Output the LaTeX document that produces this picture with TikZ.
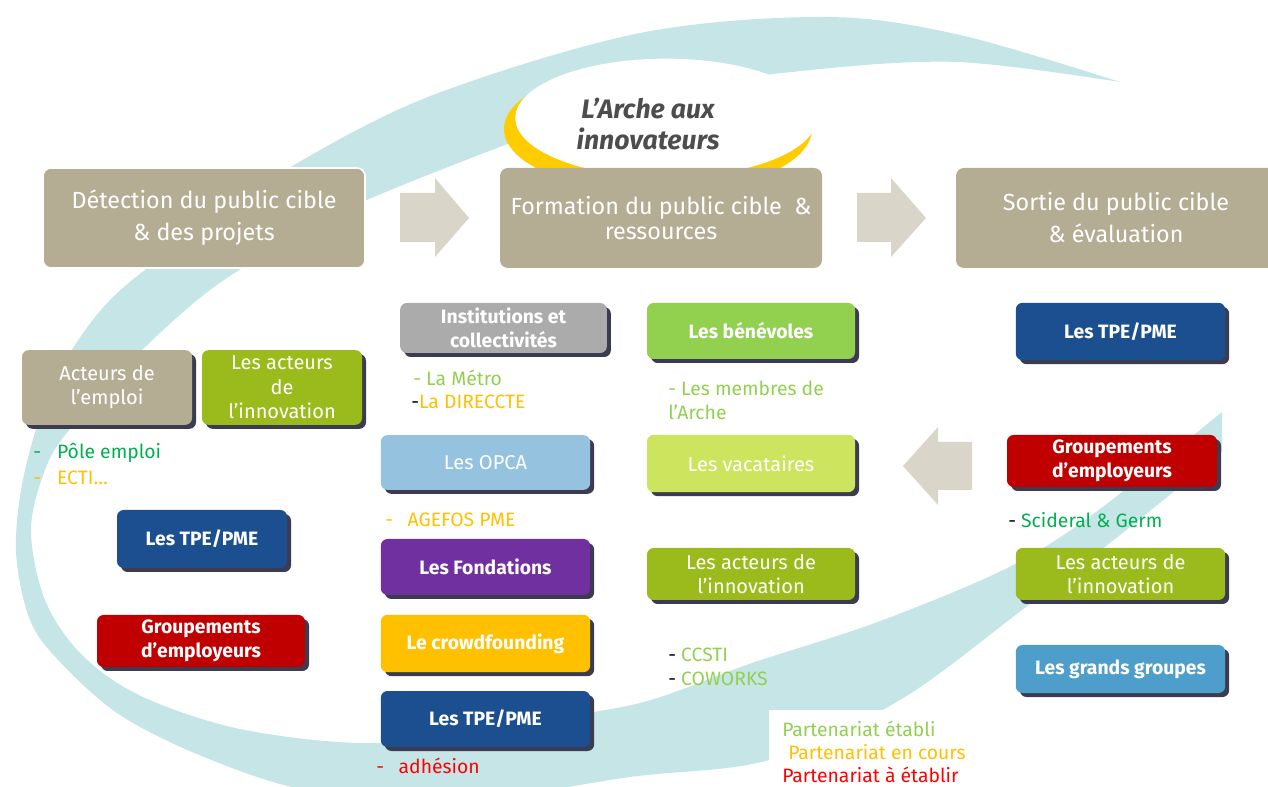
\documentclass[tikz,border=0pt]{standalone}
\usepackage{fontspec}
\setmainfont{Fira Sans}
\usetikzlibrary{shadows,shapes.geometric}
\definecolor{taupe}{HTML}{B4AD94}
\definecolor{bandc}{HTML}{C5E5E7}
\definecolor{arrowc}{HTML}{D9D5C9}
\definecolor{ellc}{HTML}{FFCC00}
\definecolor{titc}{HTML}{4D4D4D}
\definecolor{greenA}{HTML}{9BBB1C}
\definecolor{greenB}{HTML}{92D050}
\definecolor{vacc}{HTML}{CDE55E}
\definecolor{blueT}{HTML}{1C4F8F}
\definecolor{redG}{HTML}{C00000}
\definecolor{greyI}{HTML}{ABABAB}
\definecolor{opcac}{HTML}{95C3DF}
\definecolor{purpF}{HTML}{7030A0}
\definecolor{crowdc}{HTML}{FFC000}
\definecolor{grandc}{HTML}{4E9ECC}
\definecolor{shadc}{HTML}{3C3C50}
\definecolor{gtext}{HTML}{00B050}
\definecolor{otext}{HTML}{FFC000}
\definecolor{rtext}{HTML}{FF0000}
\tikzset{
  stage/.style={fill=taupe, rounded corners=6pt, text=white, align=center, inner sep=0pt,
    font=\fontsize{17.5}{21}\selectfont},
  actor/.style={rounded corners=5pt, text=white, align=center, inner sep=0pt,
    drop shadow={shadow xshift=3pt, shadow yshift=-3pt, fill=shadc, opacity=1},
    font=\fontsize{15}{18}\selectfont},
  actorb/.style={actor, font=\fontsize{14.5}{18}\selectfont\bfseries},
  note/.style={anchor=west, inner sep=0pt, font=\fontsize{14.5}{18}\selectfont},
  barrow/.style={fill=arrowc},
}
\begin{document}
\begin{tikzpicture}[x=0.75pt,y=-0.75pt]
\useasboundingbox (0,0) rectangle (1268,787);
\clip (0,0) rectangle (1268,787);
% swirl band
\fill[bandc] plot[smooth, tension=0.55] coordinates {(1120,82) (960,35) (826,17) (640,33) (433,95) (294,165) (200,230) (110,300) (55,380) (25,470) (16,550) (30,620) (61,663) (120,715) (204,757) (306,790) (450,803) (630,777) (769,760) (900,700) (1022,610) (1120,535) (1222,452)}
  -- (1222,412)
  -- plot[smooth, tension=0.55] coordinates {(1222,412) (1150,470) (1071,530) (997,573) (875,623) (752,663) (640,703) (520,722) (380,743) (245,730) (143,697) (82,655) (45,600) (31,530) (45,470) (69,430) (135,357) (210,290) (290,240) (367,200) (510,143) (640,95) (801,71) (957,62) (1120,82)} -- cycle;
% legend background
\fill[white] (769,710) rectangle (990,790);
% ellipse
\node[ellipse, fill=ellc, minimum width=231pt, minimum height=96pt, inner sep=0pt] (ellY) at (658,129) {};
\node[ellipse, fill=white, minimum width=226pt, minimum height=89pt, inner sep=0pt] (ellW) at (666,118) {};
\node[align=center, text=titc, font=\fontsize{20}{23.5}\selectfont\bfseries\itshape] (arche) at (648,124) {L’Arche aux\\innovateurs};
% stage boxes
\node[stage, draw=white, line width=1.2pt, minimum width=241.5pt, minimum height=75pt] (det) at (204,218) {Détection du public cible\\[3pt] \& des projets};
\node[stage, minimum width=241.5pt, minimum height=75pt, font=\fontsize{17.5}{18.5}\selectfont] (form) at (661,218) {Formation du public cible ~\&\\ ressources};
\node[stage, minimum width=240pt, minimum height=75pt] (sortie) at (1116,218) {Sortie du public cible\\[3pt] \& évaluation};
% block arrows
\fill[barrow] (400,193) -- (435,193) -- (435,178) -- (469,218) -- (435,257) -- (435,242) -- (400,242) -- cycle;
\fill[barrow] (857,193) -- (891,193) -- (891,178) -- (926,218) -- (891,257) -- (891,242) -- (857,242) -- cycle;
\fill[barrow] (972,442) -- (938,442) -- (938,427) -- (903,466) -- (938,505) -- (938,490) -- (972,490) -- cycle;
% left column
\node[actor, fill=taupe, minimum width=127.5pt, minimum height=56pt] (emploi) at (107,387.5) {Acteurs de\\l’emploi};
\node[actor, fill=greenA, minimum width=120pt, minimum height=56pt, font=\fontsize{15}{18.5}\selectfont] (innovL) at (282,387.5) {Les acteurs\\de\\l’innovation};
\node[note, text=gtext] (pole) at (33,453) {-\hspace{12pt}Pôle emploi};
\node[note, text=otext] (ecti) at (33,478) {-\hspace{12pt}ECTI…};
\node[actorb, fill=blueT, minimum width=127.5pt, minimum height=43.5pt] (tpeL) at (202,539) {Les TPE/PME};
\node[actorb, fill=redG, minimum width=156pt, minimum height=39pt] (grpL) at (201,641) {Groupements\\d’employeurs};
% middle-left column
\node[actorb, fill=greyI, minimum width=155pt, minimum height=37.5pt] (inst) at (503.5,328) {Institutions et\\collectivités};
\node[note, text=greenB] (metro) at (413,378) {- La Métro};
\node[note] (direccte) at (411,402) {-\textcolor{otext}{La DIRECCTE}};
\node[actor, fill=opcac, minimum width=157pt, minimum height=41pt] (opca) at (485.5,462.5) {Les OPCA};
\node[note, text=otext] (agefos) at (385,520) {-\hspace{11pt}AGEFOS PME};
\node[actorb, fill=purpF, minimum width=157pt, minimum height=42pt] (fond) at (485.5,567) {Les Fondations};
\node[actorb, fill=crowdc, minimum width=157pt, minimum height=43pt] (crowd) at (485.5,643.5) {Le crowdfounding};
\node[actorb, fill=blueT, minimum width=157pt, minimum height=42pt] (tpeM) at (485.5,719) {Les TPE/PME};
\node[note, text=rtext] (adh) at (376,766) {-\hspace{11pt}adhésion};
% middle-right column
\node[actorb, fill=greenB, minimum width=156pt, minimum height=42pt] (benev) at (751,331) {Les bénévoles};
\node[note, text=greenB, align=left] (membres) at (668,400) {- Les membres de\\l’Arche};
\node[actor, fill=vacc, minimum width=156pt, minimum height=43pt] (vacat) at (751,463.5) {Les vacataires};
\node[actor, fill=greenA, minimum width=156pt, minimum height=39pt] (innovM) at (751,574) {Les acteurs de\\l’innovation};
\node[note] (ccsti) at (668,655) {- \textcolor{greenB}{CCSTI}};
\node[note] (coworks) at (668,679) {- \textcolor{greenB}{COWORKS}};
% right column
\node[actorb, fill=blueT, minimum width=157pt, minimum height=43pt] (tpeR) at (1120.5,331.5) {Les TPE/PME};
\node[actorb, fill=redG, minimum width=157.5pt, minimum height=39pt] (grpR) at (1112,461) {Groupements\\d’employeurs};
\node[note] (scid) at (1008,520) {- \textcolor{gtext}{Scideral \& Germ}};
\node[actor, fill=greenA, minimum width=157pt, minimum height=39pt] (innovR) at (1120.5,574) {Les acteurs de\\l’innovation};
\node[actor, fill=grandc, minimum width=157pt, minimum height=36pt, font=\fontsize{14.5}{18}\selectfont\bfseries] (grands) at (1120.5,669) {Les grands groupes};
% legend
\node[note, text=greenB] (leg1) at (782,729) {Partenariat établi};
\node[note, text=otext] (leg2) at (788,752) {Partenariat en cours};
\node[note, text=rtext] (leg3) at (782,775) {Partenariat à établir};
\end{tikzpicture}
\end{document}
